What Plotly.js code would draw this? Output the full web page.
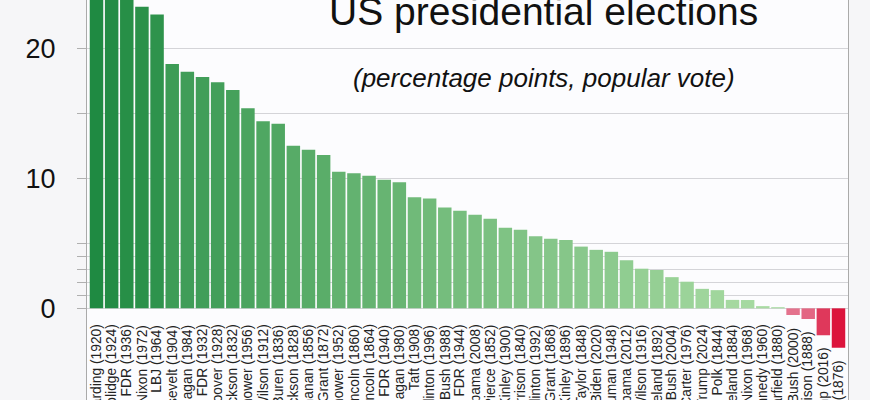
<!DOCTYPE html>
<html>
<head>
<meta charset="utf-8">
<script src="https://cdn.plot.ly/plotly-3.0.1.min.js"></script>
<style>
  html, body { margin: 0; padding: 0; background: #f6f6f8; }
  #chart { width: 870px; height: 400px; }
</style>
</head>
<body>
<div id="chart"></div>
<script>
// winners, sorted by popular vote margin
const presidents = [
  'Harding', 'Coolidge', 'FDR', 'Nixon', 'LBJ', 'T. Roosevelt', 'Reagan', 'FDR',
  'Hoover', 'Jackson', 'Eisenhower', 'Wilson', 'Van Buren', 'Jackson', 'Buchanan',
  'Grant', 'Eisenhower', 'Lincoln', 'Lincoln', 'FDR', 'Reagan', 'Taft', 'Clinton',
  'G. H. W. Bush', 'FDR', 'Obama', 'Pierce', 'McKinley', 'W. H. Harrison', 'Clinton',
  'Grant', 'McKinley', 'Taylor', 'Biden', 'Truman', 'Obama', 'Wilson', 'Cleveland',
  'G. W. Bush', 'Carter', 'Trump', 'Polk', 'Cleveland', 'Nixon', 'Kennedy',
  'Garfield', 'G. W. Bush', 'B. Harrison', 'Trump', 'Hayes'
];
const years = [
  1920, 1924, 1936, 1972, 1964, 1904, 1984, 1932,
  1928, 1832, 1956, 1912, 1836, 1828, 1856,
  1872, 1952, 1860, 1864, 1940, 1980, 1908, 1996,
  1988, 1944, 2008, 1852, 1900, 1840, 1992,
  1868, 1896, 1848, 2020, 1948, 2012, 1916, 1892,
  2004, 1976, 2024, 1844, 1884, 1968, 1960,
  1880, 2000, 1888, 2016, 1876
];
// margin in percentage points
const margins = [
  26.17, 25.22, 24.26, 23.2, 22.6, 18.8, 18.2, 17.8,
  17.4, 16.8, 15.4, 14.4, 14.2, 12.5, 12.2,
  11.8, 10.5, 10.4, 10.2, 9.9, 9.7, 8.55, 8.45,
  7.75, 7.5, 7.2, 6.9, 6.2, 6.05, 5.55,
  5.35, 5.25, 4.75, 4.5, 4.35, 3.7, 3.05, 2.95,
  2.4, 2.05, 1.5, 1.4, 0.65, 0.64, 0.17,
  0.09, -0.51, -0.82, -2.07, -3.03
];
const yTicks = [0, 1, 2, 3, 4, 5, 10, 15, 20];
const yTickText = ['0', '', '', '', '', '', '10', '', '20'];

const labels = presidents.map((p, i) => p + ' (' + years[i] + ')');

const cmin = Math.min(...margins);
const cmax = Math.max(...margins);
const z0 = (0 - cmin) / (cmax - cmin);

const bars = {
  type: 'bar',
  x: labels,
  y: margins,
  marker: {
    color: margins,
    cmin: cmin,
    cmax: cmax,
    colorscale: [
      [0, '#dc143c'],
      [z0 - 0.001, '#e6849c'],
      [z0, '#a9dba3'],
      [z0 + (1 - z0) * 0.45, '#5aad69'],
      [1, '#1f8a42']
    ],
    line: { width: 0 }
  },
  hoverinfo: 'x+y'
};

const font = 'Liberation Sans, Arial, sans-serif';

const annotations = labels.map((t, i) => ({
  text: t,
  x: t,
  y: Math.min(-1.1, margins[i] - 0.8),
  xref: 'x',
  yref: 'y',
  textangle: -90,
  xanchor: 'center',
  yanchor: 'top',
  showarrow: false,
  font: { family: font, size: 13.8, color: '#222' }
}));

annotations.push({
  text: 'US presidential elections',
  xref: 'paper', yref: 'paper',
  x: 0.6, y: 0.972,
  xanchor: 'center', yanchor: 'middle',
  showarrow: false,
  font: { family: font, size: 39, color: '#111' }
});
annotations.push({
  text: '(percentage points, popular vote)',
  xref: 'paper', yref: 'paper',
  x: 0.6, y: 0.805,
  xanchor: 'center', yanchor: 'middle',
  showarrow: false,
  font: { family: font, size: 26, color: '#111', style: 'italic' }
});

const layout = {
  width: 870,
  height: 400,
  margin: { l: 87, r: 22, t: 0, b: 0 },
  paper_bgcolor: '#f6f6f8',
  plot_bgcolor: '#fcfcfe',
  font: { family: font },
  bargap: 0.11,
  showlegend: false,
  xaxis: {
    type: 'category',
    showticklabels: false,
    showgrid: false,
    zeroline: false,
    showline: false,
    ticks: ''
  },
  yaxis: {
    range: [-7.05, 23.72],
    tickmode: 'array',
    tickvals: yTicks,
    ticktext: yTickText,
    ticks: 'outside',
    ticklen: 9,
    tickcolor: '#b0b0b0',
    ticklabelstandoff: 16,
    tickfont: { family: font, size: 27, color: '#111' },
    showgrid: true,
    gridcolor: '#d4d4d8',
    gridwidth: 1,
    zeroline: false,
    showline: true,
    linecolor: '#aaaaaa',
    mirror: true
  },
  annotations: annotations
};

Plotly.newPlot('chart', [bars], layout, { displayModeBar: false, staticPlot: true });
</script>
</body>
</html>
